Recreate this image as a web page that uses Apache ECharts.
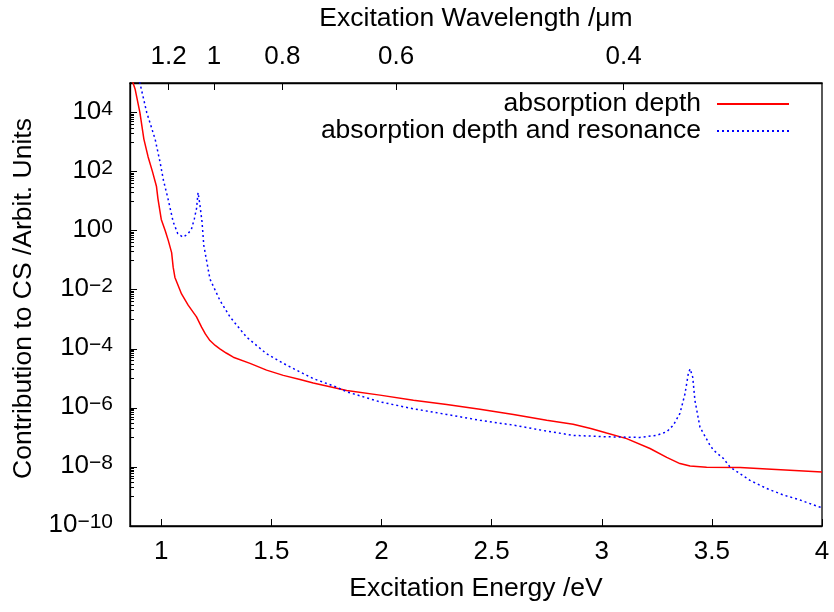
<!DOCTYPE html>
<html>
<head>
<meta charset="utf-8">
<script src="https://cdn.jsdelivr.net/npm/echarts@6/dist/echarts.min.js"></script>
<style>
html,body{margin:0;padding:0;background:#fff;}
#chart{width:834px;height:612px;}
</style>
</head>
<body>
<div id="chart"></div>
<script>
// ---- data ----
const redEnergy = [0.858,0.872,0.881,0.903,0.921,0.940,0.960,0.978,0.985,1.000,1.018,1.032,1.047,1.054,1.062,1.092,1.122,1.160,1.183,1.200,1.221,1.245,1.266,1.295,1.327,1.403,1.478,1.554,1.630,1.690,1.842,1.993,2.145,2.296,2.447,2.599,2.750,2.870,2.950,3.022,3.113,3.219,3.295,3.355,3.401,3.476,3.628,3.750,4.000];
const redValue = [2.0e5,1.0e5,6.3e4,1.0e4,1.26e3,3.2e2,1.0e2,32,12,2.4,1.0,0.46,0.18,0.058,0.026,7.2e-3,3.0e-3,1.2e-3,5.4e-4,3.2e-4,1.9e-4,1.3e-4,1.0e-4,7.2e-5,5.2e-5,3.2e-5,1.9e-5,1.26e-5,9.1e-6,6.9e-6,3.9e-6,2.7e-6,1.8e-6,1.29e-6,8.9e-7,6.0e-7,3.8e-7,2.8e-7,2.0e-7,1.4e-7,9.1e-8,4.2e-8,2.1e-8,1.3e-8,1.07e-8,9.8e-9,9.5e-9,8.5e-9,6.8e-9];

const blueEnergy = [0.880,0.903,0.934,0.972,0.995,1.010,1.030,1.054,1.075,1.099,1.120,1.137,1.150,1.160,1.167,1.175,1.185,1.193,1.221,1.266,1.312,1.387,1.478,1.569,1.690,1.794,1.842,1.993,2.145,2.296,2.447,2.599,2.729,2.870,3.022,3.173,3.249,3.295,3.325,3.355,3.378,3.393,3.401,3.413,3.423,3.446,3.491,3.507,3.552,3.582,3.673,3.749,3.825,3.900,3.984,4.000];
const blueValue = [5.0e5,1.0e5,1.0e4,1.26e3,2.0e2,50,12.6,2.0,0.79,0.6,0.76,1.12,2.5,5.6,19.5,7.9,2.0,0.32,0.023,4.4e-3,1.2e-3,2.5e-4,6.8e-5,2.8e-5,9.8e-6,5.1e-6,3.5e-6,1.6e-6,9.3e-7,6.0e-7,3.8e-7,2.6e-7,1.74e-7,1.17e-7,1.05e-7,1.0e-7,1.17e-7,1.55e-7,2.6e-7,6.5e-7,3.0e-6,1.45e-5,2.1e-5,1.1e-5,1.8e-6,2.2e-7,5.5e-8,3.7e-8,1.95e-8,1.0e-8,3.5e-9,1.86e-9,1.12e-9,7.6e-10,4.5e-10,4.2e-10];

const seriesNames = ['absorption depth', 'absorption depth and resonance'];
const energyTicks = [1, 1.5, 2, 2.5, 3, 3.5, 4];
const wavelengthTicks = [1.2, 1, 0.8, 0.6, 0.4];   // µm
const yMajorExponents = [-10, -8, -6, -4, -2, 0, 2, 4];
const yMinorExponents = [-9, -7, -5, -3, -1, 1, 3];
const xMin = 0.858, xMax = 4;
const hc = 1.23984; // eV·µm

// ---- derived ----
const redData = redEnergy.map((e, i) => [e, redValue[i]]);
const blueData = blueEnergy.map((e, i) => [e, blueValue[i]]);
const wavelengthPos = wavelengthTicks.map(l => hc / l);
const yMajor = yMajorExponents.map(p => Math.pow(10, p));
const yMinor = [];
yMinorExponents.forEach(p => { for (let k = 1; k <= 9; k++) yMinor.push(k * Math.pow(10, p)); });

const FONT = '"Liberation Sans", Arial, Helvetica, sans-serif';
const FS = 26.5;   // titles / legend
const TS = 26;     // tick labels

function legendOpt(name, top) {
  return {data: [name], right: 44, top: top, padding: 0, align: 'right', itemWidth: 72, itemHeight: 14,
    itemStyle: {opacity: 0, color: 'transparent', borderWidth: 0},
    textStyle: {fontSize: FS, color: '#000', fontFamily: FONT, lineHeight: 28, padding: [0, 11, 0, 0]},
    selectedMode: false};
}

const chart = echarts.init(document.getElementById('chart'), null, {renderer: 'canvas'});
chart.setOption({
  animation: false,
  backgroundColor: '#ffffff',
  textStyle: {fontFamily: FONT},
  grid: {left: 130, right: 12, top: 82, bottom: 86, show: true, borderColor: '#000', borderWidth: 1.3, backgroundColor: 'transparent'},
  legend: [legendOpt(seriesNames[0], 90), legendOpt(seriesNames[1], 117)],
  xAxis: [
    {type: 'value', position: 'bottom', min: xMin, max: xMax,
     name: 'Excitation Energy /eV', nameLocation: 'middle', nameGap: 49,
     nameTextStyle: {fontSize: FS, color: '#000', fontFamily: FONT},
     axisLine: {show: true, lineStyle: {color: '#000', width: 1.3}},
     axisTick: {show: true, inside: true, length: 7, customValues: energyTicks, lineStyle: {color: '#000', width: 1}},
     axisLabel: {show: true, customValues: energyTicks, margin: 13, fontSize: TS, color: '#000', fontFamily: FONT,
                 formatter: v => String(Math.round(v * 10) / 10)},
     splitLine: {show: false}},
    {type: 'value', position: 'top', min: xMin, max: xMax,
     name: 'Excitation Wavelength /μm', nameLocation: 'middle', nameGap: 51,
     nameTextStyle: {fontSize: FS, color: '#000', fontFamily: FONT},
     axisLine: {show: true, lineStyle: {color: '#000', width: 1.3}},
     axisTick: {show: true, inside: true, length: 7, customValues: wavelengthPos, lineStyle: {color: '#000', width: 1}},
     axisLabel: {show: true, customValues: wavelengthPos, margin: 13, fontSize: TS, color: '#000', fontFamily: FONT,
                 formatter: v => String(Math.round(hc / v * 10) / 10)},
     splitLine: {show: false}}
  ],
  yAxis: [
    {type: 'log', logBase: 10, min: 1e-10, max: 1e5, position: 'left',
     name: 'Contribution to CS /Arbit. Units', nameLocation: 'middle', nameGap: 88, nameRotate: 90,
     nameTextStyle: {fontSize: FS, color: '#000', fontFamily: FONT, padding: [0, 0, 0, 12]},
     axisLine: {show: true, lineStyle: {color: '#000', width: 1.3}},
     axisTick: {show: true, inside: true, length: 7, customValues: yMajor, lineStyle: {color: '#000', width: 1}},
     axisLabel: {show: true, customValues: yMajor, margin: 17, color: '#000', fontFamily: FONT,
       padding: [0, 0, 2, 0],
       formatter: v => '{b|10}{s|' + Math.round(Math.log10(v)).toString().replace('-', '−') + '}',
       rich: {
         b: {fontSize: TS, fontFamily: FONT, color: '#000', lineHeight: 26, padding: [7, 0, 0, 0], verticalAlign: 'bottom'},
         s: {fontSize: 21, fontFamily: FONT, color: '#000', lineHeight: 21, verticalAlign: 'top'}
       }},
     splitLine: {show: false}},
    {type: 'log', logBase: 10, min: 1e-10, max: 1e5, position: 'left', offset: 0,
     axisLine: {show: false},
     axisTick: {show: true, inside: true, length: 4, customValues: yMinor, lineStyle: {color: '#000', width: 1}},
     axisLabel: {show: false},
     splitLine: {show: false}}
  ],
  series: [
    {name: seriesNames[0], type: 'line', data: redData, xAxisIndex: 0, yAxisIndex: 0,
     showSymbol: false, symbol: 'none', clip: true,
     lineStyle: {color: '#ff0000', width: 1.5}, itemStyle: {color: '#ff0000'}},
    {name: seriesNames[1], type: 'line', data: blueData, xAxisIndex: 0, yAxisIndex: 0,
     showSymbol: false, symbol: 'none', clip: true,
     lineStyle: {color: '#0000ff', width: 1.5, type: [2, 3]}, itemStyle: {color: '#0000ff'}}
  ]
});
</script>
</body>
</html>
